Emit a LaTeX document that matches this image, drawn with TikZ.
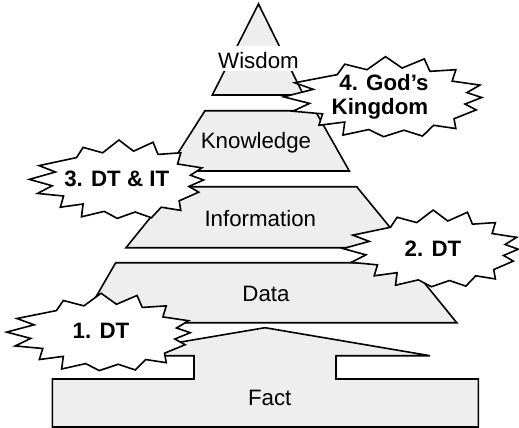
\documentclass[tikz,border=0pt]{standalone}
\usepackage{fontspec}
\setmainfont{Liberation Sans}
\definecolor{bandgray}{RGB}{238,238,238}
\tikzset{
  band/.style={draw=black, fill=bandgray, line width=1.6pt, line join=miter},
  burstline/.style={draw=black, fill=white, line width=1.6pt, line join=miter, miter limit=10},
  lbl/.style={font=\fontsize{22.3}{24}\selectfont, inner sep=0pt, anchor=base},
  blbl/.style={font=\fontsize{22.3}{24}\selectfont\bfseries, inner sep=0pt, anchor=base},
  burst/.pic={\path[burstline]
    (-0.905,0.391) -- (-0.714,0.217) -- (-1.019,0.017) -- (-0.752,-0.157) --
    (-0.924,-0.365) -- (-0.618,-0.435) -- (-0.656,-0.739) -- (-0.389,-0.652) --
    (-0.408,-1.0) -- (-0.141,-0.852) -- (0.011,-1.043) -- (0.221,-0.870) --
    (0.412,-1.026) -- (0.527,-0.739) -- (0.756,-0.826) -- (0.737,-0.565) --
    (0.966,-0.330) -- (0.851,-0.174) -- (1.023,0) -- (0.870,0.130) --
    (1.004,0.330) -- (0.718,0.435) -- (0.756,0.739) -- (0.489,0.696) --
    (0.431,1.026) -- (0.202,0.783) -- (0.031,1.087) -- (-0.160,0.739) --
    (-0.389,0.887) -- (-0.466,0.609) -- cycle;}
}
\begin{document}
\begin{tikzpicture}[x=1pt,y=-1pt]
\useasboundingbox (0,0) rectangle (519,428);
% pyramid bands
\draw[band] (258.5,4) -- (303.5,95) -- (212.3,95) -- cycle;
\draw[band] (205,110.7) -- (315.2,110.7) -- (349.3,171) -- (166.6,171) -- cycle;
\draw[band] (175.3,186.7) -- (356.7,186.7) -- (406.7,247.7) -- (126,247.7) -- cycle;
\draw[band] (115.7,262.7) -- (408,262.7) -- (456.7,322.7) -- (81,322.7) -- cycle;
% fact arrow
\draw[band] (52.3,427) -- (52.3,379) -- (194,379) -- (194,355.7) -- (100,355.7) --
  (265,327.7) -- (430,355.7) -- (336,355.7) -- (336,379) -- (478.3,379) -- (478.3,427) -- cycle;
% labels
\node[lbl, fill=white, inner xsep=1pt, inner ysep=2pt, text height=21.3pt, text depth=0pt] (wis) at (258.5,69) {Wisdom};
\node[lbl] (kno) at (256,148.3) {Knowledge};
\node[lbl] (inf) at (260.3,226.7) {Information};
\node[lbl] (dat) at (266,301.7) {Data};
\node[lbl] (fac) at (269.7,405) {Fact};
% bursts
\pic[xscale=97, yscale=-37.6] at (382.5,97.5) {burst};
\pic[xscale=85.3, yscale=-36.8] at (116.3,180) {burst};
\pic[xscale=85.8, yscale=-36] at (430.5,249.2) {burst};
\pic[xscale=89.9, yscale=-36.3] at (98.3,332.7) {burst};
\node[blbl] (g1) at (384,90) {4. God’s};
\node[blbl] (g2) at (380,114) {Kingdom};
\node[blbl] (b3) at (116.7,186.7) {3. DT \& IT};
\node[blbl] (b2) at (433,256.7) {2. DT};
\node[blbl] (b1) at (101,338.3) {1. DT};
\end{tikzpicture}
\end{document}
